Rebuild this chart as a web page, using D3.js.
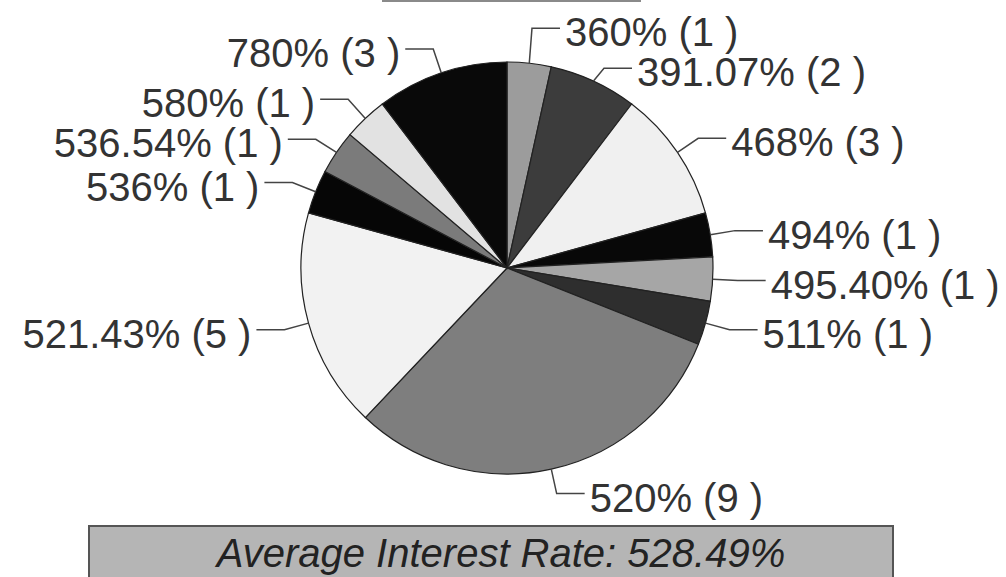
<!DOCTYPE html>
<html>
<head>
<meta charset="utf-8">
<script src="https://cdnjs.cloudflare.com/ajax/libs/d3/7.8.5/d3.min.js"></script>
<style>
  body { margin: 0; background: #fff; }
  #chart { width: 1006px; height: 577px; }
</style>
</head>
<body>
<div id="chart"></div>
<script>

// slice data, clockwise from 12 o'clock
var rates = ["360%", "391.07%", "468%", "494%", "495.40%", "511%", "520%", "521.43%", "536%", "536.54%", "580%", "780%"];
var counts = [1, 2, 3, 1, 1, 1, 9, 5, 1, 1, 1, 3];
var averageText = "Average Interest Rate: 528.49%";

var width = 1006,
    height = 577,
    cx = 507, cy = 268,
    radius = 206;

var svg = d3.select("#chart").append("svg")
    .attr("width", width)
    .attr("height", height);

var z = d3.scaleOrdinal()
    .domain(rates)
    .range(["#9c9c9c", "#3c3c3c", "#f0f0f0", "#080808", "#a6a6a6", "#2e2e2e",
            "#7e7e7e", "#f2f2f2", "#060606", "#7b7b7b", "#e2e2e2", "#090909"]);

var data = rates.map(function(r, i) { return {rate: r, count: counts[i]}; });

var pie = d3.pie().sort(null).value(function(d) { return d.count; });
var arcs = pie(data);

var arc = d3.arc().innerRadius(0).outerRadius(radius);

// top (title) box, cut off by the frame
svg.append("rect")
    .attr("x", 383).attr("y", -40)
    .attr("width", 257).attr("height", 41)
    .attr("fill", "#fff")
    .attr("stroke", "#8a8a8a")
    .attr("stroke-width", 2);

var g = svg.append("g")
    .attr("transform", "translate(" + cx + "," + cy + ")");

g.selectAll("path")
    .data(arcs)
  .enter().append("path")
    .attr("d", arc)
    .attr("fill", function(d) { return z(d.data.rate); })
    .attr("stroke", "#222")
    .attr("stroke-width", 1.2);

// label layout: leader goes out radially, then horizontally to the text
var labels = arcs.map(function(d) {
  var a = (d.startAngle + d.endAngle) / 2;
  var s = Math.sin(a), c = -Math.cos(a);
  return {
    d: d,
    side: s >= 0 ? 1 : -1,
    ex: radius * s, ey: radius * c,
    ox: (radius + 25) * s,
    y: (radius + 25) * c
  };
});

// push labels apart on each side
[1, -1].forEach(function(side) {
  var list = labels.filter(function(l) { return l.side === side; })
    .sort(function(a, b) { return a.y - b.y; });
  for (var it = 0; it < 50; it++) {
    for (var i = 1; i < list.length; i++) {
      var gap = list[i].y - list[i - 1].y;
      if (gap < 40) {
        var m = (40 - gap) / 2;
        list[i].y += m;
        list[i - 1].y -= m;
      }
    }
  }
});

labels.forEach(function(l) {
  var ex = l.ex, ey = l.ey, elx = l.ox, ely = l.y;
  var endx = elx + l.side * 28;
  g.append("polyline")
      .attr("points", [[ex, ey], [elx, ely], [endx, ely]].map(function(p) { return p.join(","); }).join(" "))
      .attr("fill", "none")
      .attr("stroke", "#444")
      .attr("stroke-width", 1.5);

  g.append("text")
      .attr("x", endx + l.side * 5)
      .attr("y", ely + 18)
      .attr("text-anchor", l.side > 0 ? "start" : "end")
      .attr("font-family", "'Liberation Sans', Arial, sans-serif")
      .attr("font-size", "40px")
      .attr("fill", "#333")
      .text(l.d.data.rate + " (" + l.d.data.count + " )");
});

// average box at the bottom
svg.append("rect")
    .attr("x", 89).attr("y", 526)
    .attr("width", 804).attr("height", 80)
    .attr("fill", "#b5b5b5")
    .attr("stroke", "#555")
    .attr("stroke-width", 2);

svg.append("text")
    .attr("x", 501)
    .attr("y", 567)
    .attr("text-anchor", "middle")
    .attr("font-family", "'Liberation Sans', Arial, sans-serif")
    .attr("font-style", "italic")
    .attr("font-size", "40px")
    .attr("fill", "#222")
    .text(averageText);

</script>
</body>
</html>
